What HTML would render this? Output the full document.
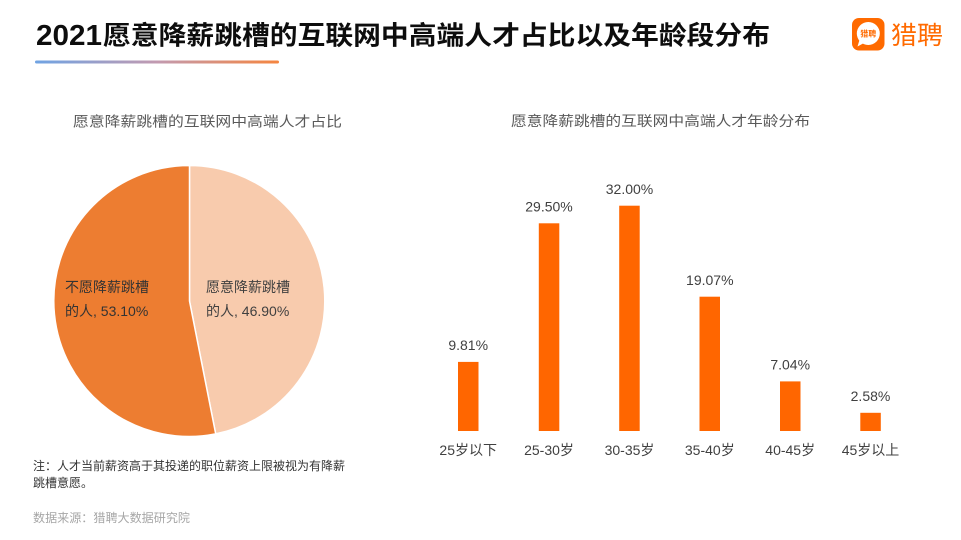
<!DOCTYPE html>
<html>
<head>
<meta charset="utf-8">
<style>
html,body{margin:0;padding:0;background:#fff;}
svg{display:block;}
text{font-family:"Liberation Sans","Noto Sans CJK SC",sans-serif;}
</style>
</head>
<body>
<svg width="961" height="540" viewBox="0 0 961 540" xmlns="http://www.w3.org/2000/svg">
<defs>
<linearGradient id="ul" x1="0" y1="0" x2="1" y2="0">
<stop offset="0" stop-color="#6fa3e3"/>
<stop offset="0.5" stop-color="#c29ab0"/>
<stop offset="1" stop-color="#f5853f"/>
</linearGradient>
</defs>
<rect width="961" height="540" fill="#fff"/>

<!-- Title -->
<text x="36" y="45" font-size="29" font-weight="bold" fill="#0d0d0d" textLength="66" lengthAdjust="spacingAndGlyphs">2021</text>
<text x="103" y="44.5" font-size="26" font-weight="bold" fill="#0d0d0d" textLength="667" lengthAdjust="spacingAndGlyphs">愿意降薪跳槽的互联网中高端人才占比以及年龄段分布</text>
<rect x="35" y="60.5" width="244" height="3" rx="1.5" fill="url(#ul)"/>

<!-- Logo -->
<rect x="852" y="18" width="32.5" height="32.5" rx="7" fill="#ff6a00"/>
<circle cx="868.3" cy="33.5" r="11.5" fill="#fff"/>
<path d="M859.5,40 L857.5,46.5 L864,43 Z" fill="#fff"/>
<text x="868.3" y="36.5" font-size="8" font-weight="bold" fill="#ff6a00" text-anchor="middle">猎聘</text>
<text x="891" y="44" font-size="25" fill="#ff6a00" textLength="52" lengthAdjust="spacingAndGlyphs">猎聘</text>

<!-- Pie chart -->
<text x="73" y="126.5" font-size="14" fill="#595959" textLength="269" lengthAdjust="spacingAndGlyphs">愿意降薪跳槽的互联网中高端人才占比</text>
<path d="M189.5,301 L189.5,165.5 A135.5,135.5 0 0 1 215.7,433.9 Z" fill="#f8cbad" stroke="#fff" stroke-width="1.5"/>
<path d="M189.5,301 L215.7,433.9 A135.5,135.5 0 1 1 189.5,165.5 Z" fill="#ed7d31" stroke="#fff" stroke-width="1.5"/>
<text x="65" y="292" font-size="14" fill="#333">不愿降薪跳槽</text>
<text x="65" y="316" font-size="14" fill="#333">的人, 53.10%</text>
<text x="206" y="292" font-size="14" fill="#404040">愿意降薪跳槽</text>
<text x="206" y="316" font-size="14" fill="#404040">的人, 46.90%</text>

<!-- Bar chart -->
<text x="511" y="126" font-size="14" fill="#595959" textLength="299" lengthAdjust="spacingAndGlyphs">愿意降薪跳槽的互联网中高端人才年龄分布</text>
<g fill="#ff6600">
<rect x="458" y="361.9" width="20.5" height="69.1"/>
<rect x="538.8" y="223.3" width="20.5" height="207.7"/>
<rect x="619.2" y="205.7" width="20.5" height="225.3"/>
<rect x="699.5" y="296.7" width="20.5" height="134.3"/>
<rect x="780" y="381.4" width="20.5" height="49.6"/>
<rect x="860.3" y="412.8" width="20.5" height="18.2"/>
</g>
<g font-size="14" fill="#404040" text-anchor="middle">
<text x="468.2" y="350">9.81%</text>
<text x="549" y="211.5">29.50%</text>
<text x="629.5" y="194">32.00%</text>
<text x="709.8" y="285">19.07%</text>
<text x="790.2" y="369.5">7.04%</text>
<text x="870.5" y="401">2.58%</text>
</g>
<g font-size="14" fill="#404040" text-anchor="middle">
<text x="468.2" y="455">25岁以下</text>
<text x="549" y="455">25-30岁</text>
<text x="629.5" y="455">30-35岁</text>
<text x="709.8" y="455">35-40岁</text>
<text x="790.2" y="455">40-45岁</text>
<text x="870.5" y="455">45岁以上</text>
</g>

<!-- Notes -->
<text x="33" y="470" font-size="12" fill="#333" textLength="312" lengthAdjust="spacingAndGlyphs">注：人才当前薪资高于其投递的职位薪资上限被视为有降薪</text>
<text x="33" y="487" font-size="12" fill="#333">跳槽意愿。</text>
<text x="33" y="522" font-size="12" fill="#a6a6a6" textLength="157" lengthAdjust="spacingAndGlyphs">数据来源：猎聘大数据研究院</text>
</svg>
</body>
</html>
